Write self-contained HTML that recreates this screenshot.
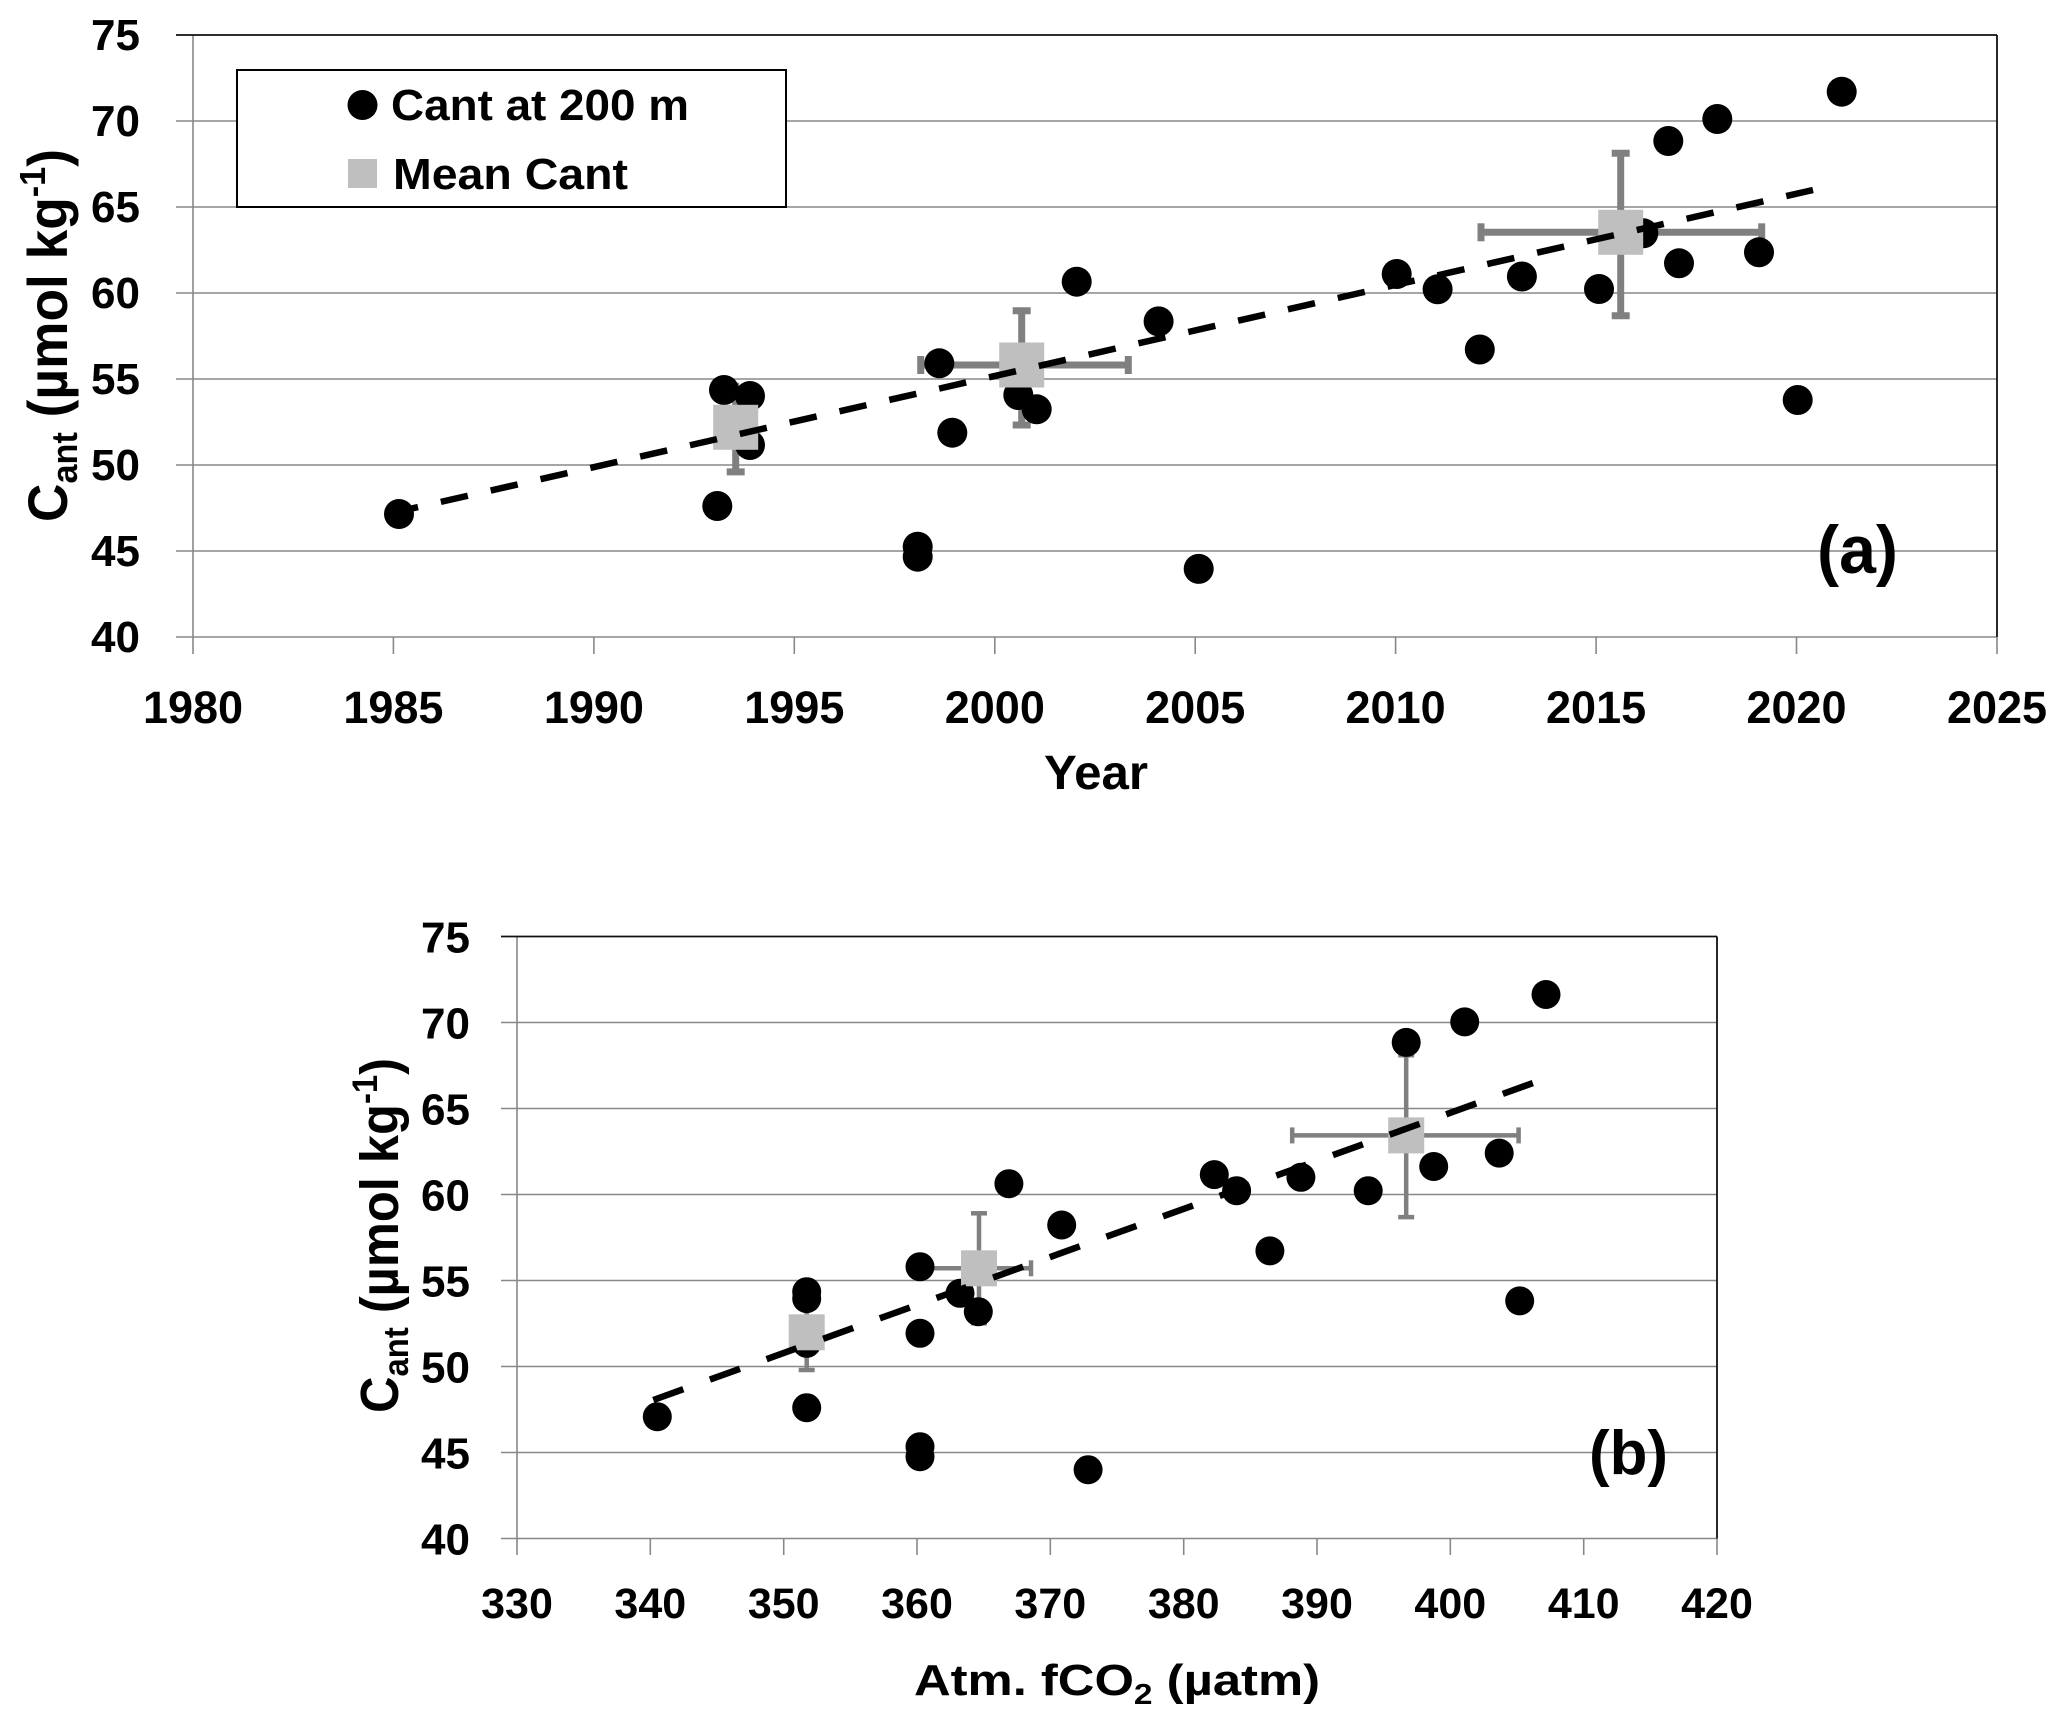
<!DOCTYPE html>
<html>
<head>
<meta charset="utf-8">
<style>
html,body{margin:0;padding:0;background:#fff;}
svg{display:block;}
text{font-family:"Liberation Sans",Arial,sans-serif;font-weight:bold;fill:#000;}
</style>
</head>
<body>
<svg width="2067" height="1723" viewBox="0 0 2067 1723" xmlns="http://www.w3.org/2000/svg">
<rect x="0" y="0" width="2067" height="1723" fill="#fff"/>

<!-- ============ TOP PLOT (a) ============ -->
<g stroke="#888" stroke-width="1.6" fill="none">
  <!-- gridlines -->
  <line x1="176" y1="121" x2="1997" y2="121"/>
  <line x1="176" y1="207" x2="1997" y2="207"/>
  <line x1="176" y1="293" x2="1997" y2="293"/>
  <line x1="176" y1="379" x2="1997" y2="379"/>
  <line x1="176" y1="465" x2="1997" y2="465"/>
  <line x1="176" y1="551" x2="1997" y2="551"/>
  <line x1="176" y1="637" x2="1997" y2="637"/>
  <!-- left axis -->
  <line x1="193" y1="35" x2="193" y2="654"/>
  <!-- x ticks -->
  <line x1="393.4" y1="637" x2="393.4" y2="654"/>
  <line x1="593.9" y1="637" x2="593.9" y2="654"/>
  <line x1="794.3" y1="637" x2="794.3" y2="654"/>
  <line x1="994.8" y1="637" x2="994.8" y2="654"/>
  <line x1="1195.2" y1="637" x2="1195.2" y2="654"/>
  <line x1="1395.6" y1="637" x2="1395.6" y2="654"/>
  <line x1="1596.1" y1="637" x2="1596.1" y2="654"/>
  <line x1="1796.5" y1="637" x2="1796.5" y2="654"/>
  <line x1="1997" y1="637" x2="1997" y2="654"/>
</g>
<g stroke="#111" stroke-width="1.8" fill="none">
  <line x1="176" y1="35" x2="1997" y2="35"/>
  <line x1="1997" y1="35" x2="1997" y2="637"/>
</g>

<!-- y tick labels top -->
<g font-size="44" text-anchor="end">
  <text x="140" y="50">75</text>
  <text x="140" y="136">70</text>
  <text x="140" y="222">65</text>
  <text x="140" y="308">60</text>
  <text x="140" y="394">55</text>
  <text x="140" y="480">50</text>
  <text x="140" y="566">45</text>
  <text x="140" y="652">40</text>
</g>
<!-- x tick labels top -->
<g font-size="45" text-anchor="middle">
  <text x="193" y="723">1980</text>
  <text x="393.4" y="723">1985</text>
  <text x="593.9" y="723">1990</text>
  <text x="794.3" y="723">1995</text>
  <text x="994.8" y="723">2000</text>
  <text x="1195.2" y="723">2005</text>
  <text x="1395.6" y="723">2010</text>
  <text x="1596.1" y="723">2015</text>
  <text x="1796.5" y="723">2020</text>
  <text x="1997" y="723">2025</text>
</g>
<text x="1044" y="789" font-size="48" textLength="104" lengthAdjust="spacingAndGlyphs">Year</text>
<text transform="translate(67,522) rotate(-90)" font-size="56" textLength="373" lengthAdjust="spacingAndGlyphs">C<tspan font-size="36" dy="10">ant</tspan><tspan dy="-10"> (µmol kg</tspan><tspan font-size="36" dy="-22">-1</tspan><tspan dy="22">)</tspan></text>

<!-- error bars top -->
<g stroke="#808080" stroke-width="7" fill="none">
  <line x1="735.7" y1="382.7" x2="735.7" y2="471.9"/>
  <line x1="726.7" y1="471.9" x2="744.7" y2="471.9"/>
  <line x1="1021.7" y1="310.7" x2="1021.7" y2="425"/>
  <line x1="1012.7" y1="310.7" x2="1030.7" y2="310.7"/>
  <line x1="1012.7" y1="425" x2="1030.7" y2="425"/>
  <line x1="920.7" y1="365" x2="1128.3" y2="365"/>
  <line x1="920.7" y1="356" x2="920.7" y2="374"/>
  <line x1="1128.3" y1="356" x2="1128.3" y2="374"/>
  <line x1="1620.7" y1="153.3" x2="1620.7" y2="315.7"/>
  <line x1="1611.7" y1="153.3" x2="1629.7" y2="153.3"/>
  <line x1="1611.7" y1="315.7" x2="1629.7" y2="315.7"/>
  <line x1="1481" y1="232.3" x2="1761.7" y2="232.3"/>
  <line x1="1481" y1="223.3" x2="1481" y2="241.3"/>
  <line x1="1761.7" y1="223.3" x2="1761.7" y2="241.3"/>
</g>

<!-- circles top -->
<g fill="#000">
  <circle cx="399" cy="514" r="15"/>
  <circle cx="717.3" cy="506" r="15"/>
  <circle cx="724" cy="390" r="15"/>
  <circle cx="750" cy="396" r="15"/>
  <circle cx="750" cy="445" r="15"/>
  <circle cx="917.7" cy="546.7" r="15"/>
  <circle cx="917.7" cy="556.7" r="15"/>
  <circle cx="939.3" cy="363.3" r="15"/>
  <circle cx="952.3" cy="432.7" r="15"/>
  <circle cx="1018.3" cy="395" r="15"/>
  <circle cx="1036.7" cy="409.3" r="15"/>
  <circle cx="1076.7" cy="281.7" r="15"/>
  <circle cx="1158.6" cy="321.4" r="15"/>
  <circle cx="1198.7" cy="568.9" r="15"/>
  <circle cx="1396.7" cy="274" r="15"/>
  <circle cx="1437.6" cy="289.3" r="15"/>
  <circle cx="1479.8" cy="349.5" r="15"/>
  <circle cx="1521.9" cy="276.5" r="15"/>
  <circle cx="1599" cy="289" r="15"/>
  <circle cx="1643.3" cy="233.3" r="15"/>
  <circle cx="1668.3" cy="141" r="15"/>
  <circle cx="1679" cy="263.3" r="15"/>
  <circle cx="1717.3" cy="119" r="15"/>
  <circle cx="1759" cy="252.3" r="15"/>
  <circle cx="1797.7" cy="400" r="15"/>
  <circle cx="1841.7" cy="91.7" r="15"/>
</g>
<!-- squares top -->
<g fill="#bfbfbf">
  <rect x="713.2" y="404.8" width="45" height="45"/>
  <rect x="999.2" y="342.5" width="45" height="45"/>
  <rect x="1598.2" y="209.8" width="45" height="45"/>
</g>
<!-- trendline top -->
<line x1="391" y1="513.2" x2="1813" y2="190" stroke="#000" stroke-width="6.5" stroke-dasharray="27.7 23.4"/>

<!-- legend -->
<rect x="237" y="70" width="549" height="137" fill="#fff" stroke="#000" stroke-width="2"/>
<circle cx="362.5" cy="105" r="15" fill="#000"/>
<rect x="348" y="159" width="29" height="29" fill="#bfbfbf"/>
<text x="391" y="120" font-size="44" textLength="298" lengthAdjust="spacingAndGlyphs">Cant at 200 m</text>
<text x="393" y="189" font-size="44" textLength="235" lengthAdjust="spacingAndGlyphs">Mean Cant</text>

<text x="1817" y="573" font-size="68" textLength="81" lengthAdjust="spacingAndGlyphs">(a)</text>

<!-- ============ BOTTOM PLOT (b) ============ -->
<g stroke="#888" stroke-width="1.6" fill="none">
  <line x1="501" y1="1022.5" x2="1717" y2="1022.5"/>
  <line x1="501" y1="1108.5" x2="1717" y2="1108.5"/>
  <line x1="501" y1="1194.5" x2="1717" y2="1194.5"/>
  <line x1="501" y1="1280.5" x2="1717" y2="1280.5"/>
  <line x1="501" y1="1366.5" x2="1717" y2="1366.5"/>
  <line x1="501" y1="1452.5" x2="1717" y2="1452.5"/>
  <line x1="501" y1="1538.5" x2="1717" y2="1538.5"/>
  <line x1="517" y1="936.5" x2="517" y2="1555"/>
  <line x1="650.3" y1="1538.5" x2="650.3" y2="1555"/>
  <line x1="783.7" y1="1538.5" x2="783.7" y2="1555"/>
  <line x1="917" y1="1538.5" x2="917" y2="1555"/>
  <line x1="1050.3" y1="1538.5" x2="1050.3" y2="1555"/>
  <line x1="1183.7" y1="1538.5" x2="1183.7" y2="1555"/>
  <line x1="1317" y1="1538.5" x2="1317" y2="1555"/>
  <line x1="1450.3" y1="1538.5" x2="1450.3" y2="1555"/>
  <line x1="1583.7" y1="1538.5" x2="1583.7" y2="1555"/>
  <line x1="1717" y1="1538.5" x2="1717" y2="1555"/>
</g>
<g stroke="#111" stroke-width="1.8" fill="none">
  <line x1="501" y1="936.5" x2="1717" y2="936.5"/>
  <line x1="1717" y1="936.5" x2="1717" y2="1538.5"/>
</g>

<g font-size="44" text-anchor="end">
  <text x="470" y="952.5">75</text>
  <text x="470" y="1038.5">70</text>
  <text x="470" y="1124.5">65</text>
  <text x="470" y="1210.5">60</text>
  <text x="470" y="1296.5">55</text>
  <text x="470" y="1382.5">50</text>
  <text x="470" y="1468.5">45</text>
  <text x="470" y="1554.5">40</text>
</g>
<g font-size="43" text-anchor="middle">
  <text x="517" y="1618">330</text>
  <text x="650.3" y="1618">340</text>
  <text x="783.7" y="1618">350</text>
  <text x="917" y="1618">360</text>
  <text x="1050.3" y="1618">370</text>
  <text x="1183.7" y="1618">380</text>
  <text x="1317" y="1618">390</text>
  <text x="1450.3" y="1618">400</text>
  <text x="1583.7" y="1618">410</text>
  <text x="1717" y="1618">420</text>
</g>
<text x="914" y="1695" font-size="44" textLength="406" lengthAdjust="spacingAndGlyphs">Atm. fCO<tspan font-size="29" dy="9">2</tspan><tspan dy="-9"> (µatm)</tspan></text>
<text transform="translate(398,1413) rotate(-90)" font-size="54" textLength="355" lengthAdjust="spacingAndGlyphs">C<tspan font-size="35" dy="10">ant</tspan><tspan dy="-10"> (µmol kg</tspan><tspan font-size="35" dy="-21">-1</tspan><tspan dy="21">)</tspan></text>

<!-- error bars bottom -->
<g stroke="#808080" stroke-width="4.5" fill="none">
  <line x1="806.7" y1="1294.6" x2="806.7" y2="1370"/>
  <line x1="798.7" y1="1370" x2="814.7" y2="1370"/>
  <line x1="979" y1="1213.3" x2="979" y2="1323.3"/>
  <line x1="971" y1="1213.3" x2="987" y2="1213.3"/>
  <line x1="971" y1="1323.3" x2="987" y2="1323.3"/>
  <line x1="927" y1="1268.3" x2="1031" y2="1268.3"/>
  <line x1="927" y1="1260.3" x2="927" y2="1276.3"/>
  <line x1="1031" y1="1260.3" x2="1031" y2="1276.3"/>
  <line x1="1406.2" y1="1055.3" x2="1406.2" y2="1217.1"/>
  <line x1="1398.2" y1="1055.3" x2="1414.2" y2="1055.3"/>
  <line x1="1398.2" y1="1217.1" x2="1414.2" y2="1217.1"/>
  <line x1="1292.2" y1="1135.4" x2="1518.6" y2="1135.4"/>
  <line x1="1292.2" y1="1127.4" x2="1292.2" y2="1143.4"/>
  <line x1="1518.6" y1="1127.4" x2="1518.6" y2="1143.4"/>
</g>

<g fill="#000">
  <circle cx="657.3" cy="1416.7" r="14.5"/>
  <circle cx="806.7" cy="1407.7" r="14.5"/>
  <circle cx="806.7" cy="1291.7" r="14.5"/>
  <circle cx="806.7" cy="1298.6" r="14.5"/>
  <circle cx="806.7" cy="1343.3" r="14.5"/>
  <circle cx="920" cy="1266.7" r="14.5"/>
  <circle cx="920" cy="1333.3" r="14.5"/>
  <circle cx="920" cy="1446.7" r="14.5"/>
  <circle cx="920" cy="1456.7" r="14.5"/>
  <circle cx="960" cy="1293.3" r="14.5"/>
  <circle cx="978.3" cy="1311.7" r="14.5"/>
  <circle cx="1008.9" cy="1183.7" r="14.5"/>
  <circle cx="1061.7" cy="1225" r="14.5"/>
  <circle cx="1088.1" cy="1469.7" r="14.5"/>
  <circle cx="1214.3" cy="1174.6" r="14.5"/>
  <circle cx="1236.6" cy="1190.7" r="14.5"/>
  <circle cx="1300.9" cy="1177.3" r="14.5"/>
  <circle cx="1269.9" cy="1250.9" r="14.5"/>
  <circle cx="1368.2" cy="1190.7" r="14.5"/>
  <circle cx="1406.2" cy="1042.4" r="14.5"/>
  <circle cx="1433.7" cy="1166.5" r="14.5"/>
  <circle cx="1464.7" cy="1021.9" r="14.5"/>
  <circle cx="1499.2" cy="1153.1" r="14.5"/>
  <circle cx="1519.7" cy="1300.9" r="14.5"/>
  <circle cx="1546" cy="994.5" r="14.5"/>
</g>
<g fill="#bfbfbf">
  <rect x="788.7" y="1314.3" width="36" height="36"/>
  <rect x="961" y="1250.3" width="36" height="36"/>
  <rect x="1388.2" y="1117.4" width="36" height="36"/>
</g>
<line x1="653.3" y1="1400" x2="1533" y2="1083" stroke="#000" stroke-width="6.5" stroke-dasharray="31.9 28.3"/>

<text x="1589" y="1474" font-size="62" textLength="79" lengthAdjust="spacingAndGlyphs">(b)</text>
</svg>
</body>
</html>
